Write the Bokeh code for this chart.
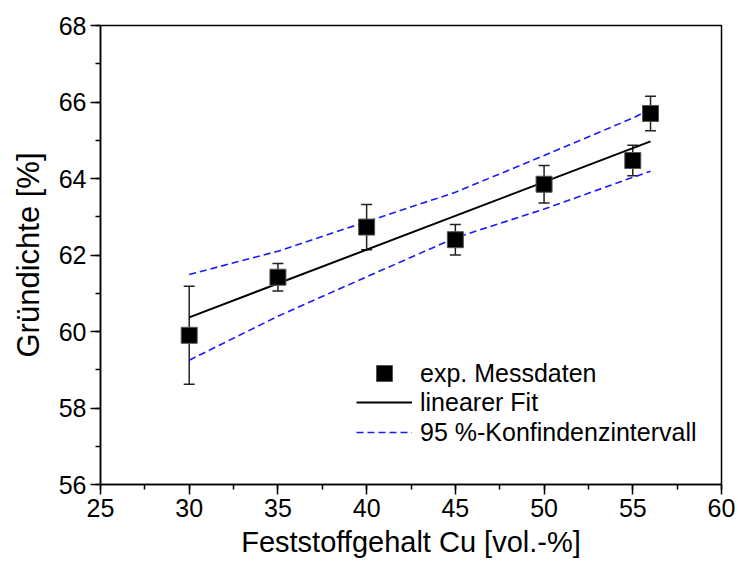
from bokeh.plotting import figure
from bokeh.models import (ColumnDataSource, Whisker, TeeHead, Legend, LegendItem,
                          SingleIntervalTicker, Range1d)
from bokeh.embed import file_html
from bokeh.resources import INLINE

# measured data
x_data = [30, 35, 40, 45, 50, 55, 56]
y_data = [59.90, 61.42, 62.73, 62.40, 63.85, 64.47, 65.70]
y_err = [1.28, 0.36, 0.59, 0.40, 0.49, 0.40, 0.45]

# linear fit (end points)
x_fit = [30, 56]
y_fit = [60.37, 64.97]

# 95 % confidence band
x_ci = [30, 35, 40, 45, 50, 55, 56]
ci_upper = [61.49, 62.10, 62.87, 63.64, 64.60, 65.58, 65.81]
ci_lower = [59.25, 60.40, 61.43, 62.45, 63.20, 64.03, 64.19]

FONT = "Liberation Sans"

p = figure(width=738, height=564, output_backend="svg", toolbar_location=None,
           x_range=Range1d(25, 60), y_range=Range1d(56, 68),
           min_border_left=100, min_border_right=17, min_border_top=25,
           min_border_bottom=80)

p.background_fill_color = "white"
p.border_fill_color = "white"
p.grid.visible = False
p.outline_line_color = "black"
p.outline_line_width = 1.5

p.xaxis.ticker = SingleIntervalTicker(interval=5, num_minor_ticks=2)
p.yaxis.ticker = SingleIntervalTicker(interval=2, num_minor_ticks=2)
for ax in (p.xaxis, p.yaxis):
    ax.axis_line_color = "black"
    ax.axis_line_width = 1.5
    ax.major_tick_line_color = "black"
    ax.minor_tick_line_color = "black"
    ax.major_tick_line_width = 1.5
    ax.minor_tick_line_width = 1.5
    ax.major_tick_out = 10
    ax.major_tick_in = 0
    ax.minor_tick_out = 5
    ax.minor_tick_in = 0
    ax.major_label_text_font = FONT
    ax.major_label_text_font_size = "25px"
    ax.major_label_text_color = "black"
    ax.major_label_standoff = 4
    ax.axis_label_text_font = FONT
    ax.axis_label_text_font_style = "normal"
    ax.axis_label_text_color = "black"

p.xaxis.axis_label_text_font_size = "29px"
p.yaxis.axis_label_text_font_size = "31px"
p.xaxis.axis_label_standoff = 6
p.yaxis.axis_label_standoff = 10

p.xaxis.axis_label = "Feststoffgehalt Cu [vol.-%]"
p.yaxis.axis_label = "Gründichte [%]"

src = ColumnDataSource(dict(
    x=x_data, y=y_data,
    lo=[v - e for v, e in zip(y_data, y_err)],
    hi=[v + e for v, e in zip(y_data, y_err)],
))

r_up = p.line(x_ci, ci_upper, line_color="#1a1aff", line_width=1.6, line_dash="7 4")
r_lo = p.line(x_ci, ci_lower, line_color="#1a1aff", line_width=1.6, line_dash="7 4")
r_fit = p.line(x_fit, y_fit, line_color="black", line_width=2)

wh = Whisker(source=src, base="x", upper="hi", lower="lo",
             line_color="#222222", line_width=1.5,
             upper_head=TeeHead(size=11, line_color="#222222", line_width=1.5),
             lower_head=TeeHead(size=11, line_color="#222222", line_width=1.5))
p.add_layout(wh)

r_pts = p.scatter("x", "y", source=src, marker="square", size=16,
                  fill_color="black", line_color="#555555", line_width=1)


def make_legend(items, loc, gh):
    lg = Legend(items=items, location=loc)
    lg.glyph_width = 56
    lg.glyph_height = gh
    lg.label_height = gh
    lg.spacing = 0
    lg.padding = 0
    lg.margin = 0
    lg.label_standoff = 8
    lg.label_text_font = FONT
    lg.label_text_font_size = "25px"
    lg.label_text_color = "black"
    lg.border_line_color = None
    lg.background_fill_alpha = 0
    return lg


leg1 = make_legend([LegendItem(label="exp. Messdaten", renderers=[r_pts])], (256, 91), 40)
leg2 = make_legend([
    LegendItem(label="linearer Fit", renderers=[r_fit]),
    LegendItem(label="95 %-Konfindenzintervall", renderers=[r_up]),
], (256, 37), 30)
p.add_layout(leg1, "center")
p.add_layout(leg2, "center")

open("out.html", "w").write(file_html(p, INLINE))
